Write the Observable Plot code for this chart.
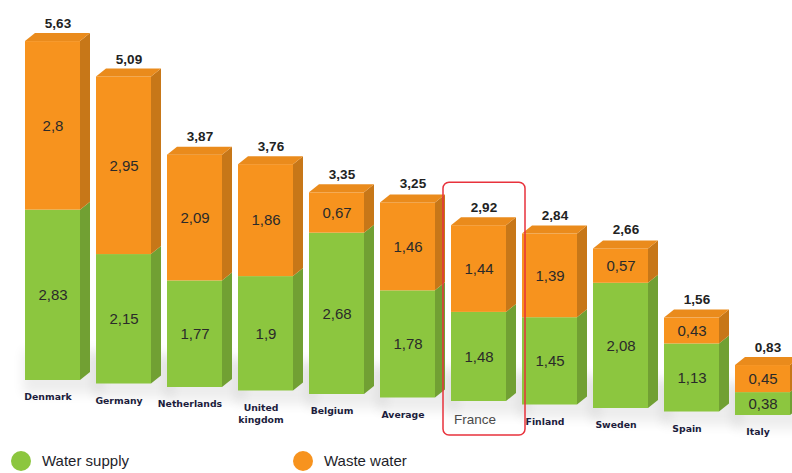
<!DOCTYPE html>
<html>
<head>
<meta charset="utf-8">
<script src="https://cdn.jsdelivr.net/npm/d3@7"></script>
<script src="https://cdn.jsdelivr.net/npm/@observablehq/plot@0.6"></script>
<style>
  html, body { margin: 0; padding: 0; background: #fff; }
  body { width: 792px; height: 473px; overflow: hidden; font-family: "Liberation Sans", Arial, sans-serif; }
  #chart svg { display: block; }
  #legend { position: relative; height: 33px; }
  .item { position: absolute; top: 0; height: 33px; display: flex; align-items: center; font-size: 15px; color: #1e1e2a; }
  .dot { width: 20px; height: 20px; border-radius: 50%; margin-right: 11px; }
</style>
</head>
<body>
<div id="chart"></div>
<div id="legend"></div>
<script>
// Cost of water services per country (€/m³): drinking water supply + waste water treatment
const countries = ["Denmark", "Germany", "Netherlands", "United\nkingdom", "Belgium", "Average",
                   "France", "Finland", "Sweden", "Spain", "Italy"];
const waterSupply = [2.83, 2.15, 1.77, 1.9, 2.68, 1.78, 1.48, 1.45, 2.08, 1.13, 0.38];
const wasteWater  = [2.8, 2.95, 2.09, 1.86, 0.67, 1.46, 1.44, 1.39, 0.57, 0.43, 0.45];
const totals      = [5.63, 5.09, 3.87, 3.76, 3.35, 3.25, 2.92, 2.84, 2.66, 1.56, 0.83];
const seriesNames = ["Water supply", "Waste water"];
const seriesColors = ["#8cc63f", "#f7931e"];
const highlighted = "France";

const fmt = v => String(v).replace(".", ",");

// stacked segments, water supply at the bottom
const segments = countries.flatMap((country, i) => {
  const a = waterSupply[i], b = wasteWater[i];
  return [
    {country, i, series: seriesNames[0], value: a, y1: 0, y2: a, mid: a / 2, top: false},
    {country, i, series: seriesNames[1], value: b, y1: a, y2: a + b, mid: a + b / 2, top: true}
  ];
});
const bars = countries.map((country, i) => ({country, i, total: totals[i], label: country}));

// receding floor: every bar sits a little lower than the one before it
const slope = 3.5;
// depth of the extruded boxes
const depthX = 10, depthY = 8;

function recede(data) {
  return (index, scales, values, dims, ctx, next) => {
    const out = {...values};
    for (const key of ["y", "y1", "y2"]) {
      if (values[key]) out[key] = Float64Array.from(values[key], (v, k) => v + slope * data[k].i);
    }
    return next(index, scales, out, dims, ctx);
  };
}

// draws each stacked segment as a box: front face, right side and (for the top segment) a lid
function prisms(index, scales, values, dims) {
  const g = d3.create("svg:g");
  const bw = scales.x.bandwidth();
  const defs = g.append("defs");
  defs.append("filter").attr("id", "soft").attr("x", "-50%").attr("y", "-50%").attr("width", "200%").attr("height", "200%")
    .append("feGaussianBlur").attr("stdDeviation", 6);
  // faint floor shadow
  for (const k of index) {
    const d = segments[k];
    if (d.top) continue;
    const x0 = values.x[k];
    const bot = Math.max(values.y1[k], values.y2[k]) + slope * d.i;
    g.append("rect")
      .attr("x", x0 - 2).attr("y", bot - 30).attr("width", bw + depthX + 14).attr("height", 44)
      .attr("fill", "#000").attr("opacity", 0.07).attr("filter", "url(#soft)");
  }
  for (const k of index) {
    const d = segments[k];
    const x0 = values.x[k], x1 = x0 + bw;
    const top = Math.min(values.y1[k], values.y2[k]) + slope * d.i;
    const bot = Math.max(values.y1[k], values.y2[k]) + slope * d.i;
    const front = values.fill[k];
    const side = d3.color(front).darker(0.6).formatHex();
    const lid = d3.color(front).darker(0.15).formatHex();
    g.append("rect").attr("x", x0).attr("y", top).attr("width", bw).attr("height", bot - top).attr("fill", front);
    g.append("polygon")
      .attr("points", [[x1, top], [x1 + depthX, top - depthY], [x1 + depthX, bot - depthY], [x1, bot]].join(" "))
      .attr("fill", side);
    if (d.top) {
      g.append("polygon")
        .attr("points", [[x0, top], [x0 + depthX, top - depthY], [x1 + depthX, top - depthY], [x1, top]].join(" "))
        .attr("fill", lid);
    }
  }
  return g.node();
}

const others = bars.filter(d => d.country !== highlighted);
const focus = bars.filter(d => d.country === highlighted);

const chart = Plot.plot({
  width: 792,
  height: 440,
  margin: 0,
  x: {domain: countries, range: [7, 807], padding: 0.23, axis: null},
  y: {domain: [0, 6], range: [380, 380 - 6 * 60.2], axis: null},
  color: {domain: seriesNames, range: seriesColors},
  style: {fontFamily: "'Liberation Sans', Arial, sans-serif", background: "transparent"},
  marks: [
    Plot.barY(segments, {x: "country", y1: "y1", y2: "y2", fill: "series", render: prisms}),
    // value inside each segment
    Plot.text(segments, {
      x: "country", y: "mid", text: d => fmt(d.value),
      fill: "#2a2a2a", fontSize: 15, render: recede(segments)
    }),
    // total above each box
    Plot.text(bars, {
      x: "country", y: "total", text: d => fmt(d.total),
      dx: 5, dy: -14, lineAnchor: "bottom", fontWeight: "bold", fontSize: 13.5,
      fill: "#222", render: recede(bars)
    }),
    // country names
    Plot.text(others, {
      x: "country", y: () => 0, text: "label", dx: -5, dy: 11, lineAnchor: "top",
      lineHeight: 1.3, fontFamily: "'DejaVu Sans', Verdana, sans-serif", fontWeight: "bold",
      fontSize: 9.3, fill: "#1c1c3c", render: recede(others)
    }),
    Plot.text(focus, {
      x: "country", y: () => 0, text: "label", dx: -4, dy: 13, lineAnchor: "top",
      fontSize: 13.5, fill: "#4a4a4a", render: recede(focus)
    }),
    // frame around the highlighted country
    Plot.barY(focus, {
      x: "country", y1: () => 0, y2: "total",
      insetLeft: -8, insetRight: -19, insetTop: -43, insetBottom: -34,
      rx: 6, fill: "none", stroke: "#e8323c", strokeWidth: 1.5, render: recede(focus)
    })
  ]
});
document.getElementById("chart").append(chart);

// legend
const legend = d3.select("#legend");
const legendX = [11, 293];
seriesNames.forEach((name, i) => {
  const item = legend.append("div").attr("class", "item").style("left", legendX[i] + "px").style("top", "4px");
  item.append("div").attr("class", "dot").style("background", seriesColors[i]);
  item.append("span").text(name);
});
</script>
</body>
</html>
